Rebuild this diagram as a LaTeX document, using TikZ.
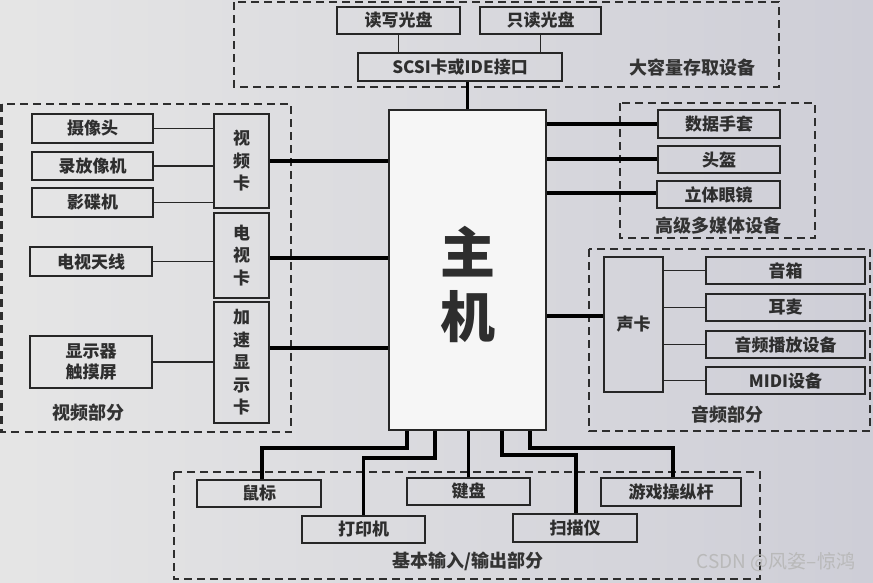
\documentclass[tikz,border=0pt]{standalone}
\usepackage{fontspec}
\setmainfont{Noto Sans CJK SC}
\begin{document}
\begin{tikzpicture}[x=1pt,y=-1pt,
  box/.style={draw=black!85,line width=2pt,inner sep=0pt,align=center,text=black!82,font=\bfseries\fontsize{17}{22.5}\selectfont},
  grp/.style={draw=black!82,line width=2.2pt,dash pattern=on 8pt off 5pt},
  lbl/.style={text=black!80,font=\bfseries\fontsize{18}{20}\selectfont,inner sep=0pt},
  thin/.style={draw=black!85,line width=1.7pt},
  thk/.style={draw=black,line width=3.5pt}]
\useasboundingbox (0,0) rectangle (873,582);
\shade[left color=gray!20, middle color=gray!7, right color=blue!10!gray!35] (0,0) rectangle (873,582);

% group frames
\draw[grp] (234,2) rectangle (779,87);
\draw[grp] (1.5,104) rectangle (291,432);
\draw[grp] (620,103) rectangle (815,238);
\draw[grp] (589,249) rectangle (870,431);
\draw[grp] (174,472) rectangle (760,579);

% top
\node[box,minimum width=123pt,minimum height=27pt] (rw) at (398.5,20.5) {读写光盘};
\node[box,minimum width=121pt,minimum height=27pt] (ro) at (540.5,20.5) {只读光盘};
\node[box,minimum width=204pt,minimum height=28pt] (scsi) at (460,67) {SCSI卡或IDE接口};
\node[lbl] (lbig) at (692,68) {大容量存取设备};

% host
\node[box,fill=white!93!gray,minimum width=157pt,minimum height=320pt] (host) at (467.5,270) {};
\node[text=black!82,font=\bfseries\fontsize{55}{64}\selectfont,align=center,inner sep=0pt] (hostt) at (467.5,284) {主\\机};

% left
\node[box,minimum width=121pt,minimum height=29pt] (cam) at (92.5,128.5) {摄像头};
\node[box,minimum width=121pt,minimum height=28pt] (vcr) at (92.5,166) {录放像机};
\node[box,minimum width=121pt,minimum height=29pt] (dvd) at (92.5,202.5) {影碟机};
\node[box,minimum width=122pt,minimum height=29pt] (ant) at (91,261.5) {电视天线};
\node[box,minimum width=122pt,minimum height=52pt] (disp) at (91,362) {显示器\\[-1.5pt]触摸屏};
\node[box,minimum width=55pt,minimum height=94pt] (vcard) at (241.5,161) {视\\频\\卡};
\node[box,minimum width=55pt,minimum height=85pt] (tvcard) at (241.5,255.5) {电\\视\\卡};
\node[box,minimum width=55pt,minimum height=121pt] (acc) at (241.5,362.5) {加\\速\\显\\示\\卡};
\node[lbl] (lvid) at (88,413) {视频部分};

% right top
\node[box,minimum width=122pt,minimum height=28pt] (glove) at (719,124) {数据手套};
\node[box,minimum width=122pt,minimum height=27pt] (helm) at (719,159.5) {头盔};
\node[box,minimum width=123pt,minimum height=27pt] (glass) at (718.5,194.5) {立体眼镜};
\node[lbl] (lmm) at (718,226) {高级多媒体设备};

% audio
\node[box,minimum width=59pt,minimum height=135pt] (sound) at (633.5,324.5) {声卡};
\node[box,minimum width=159pt,minimum height=27pt] (spk) at (785.5,270.5) {音箱};
\node[box,minimum width=159pt,minimum height=27pt] (hp) at (785.5,307.5) {耳麦};
\node[box,minimum width=159pt,minimum height=27pt] (player) at (785.5,344.5) {音频播放设备};
\node[box,minimum width=159pt,minimum height=27pt] (midi) at (785.5,380.5) {MIDI设备};
\node[lbl] (laud) at (727,415) {音频部分};

% bottom
\node[box,minimum width=124pt,minimum height=27pt] (mouse) at (259,493.5) {鼠标};
\node[box,minimum width=123pt,minimum height=27pt] (printer) at (363.5,529.5) {打印机};
\node[box,minimum width=123pt,minimum height=27pt] (kbd) at (468.5,491.5) {键盘};
\node[box,minimum width=124pt,minimum height=28pt] (scan) at (575,528) {扫描仪};
\node[box,minimum width=140pt,minimum height=28pt] (joy) at (671,492) {游戏操纵杆};
\node[lbl] (lio) at (468,561) {基本输入/输出部分};

\node[text=gray!55,font=\fontsize{19}{22}\selectfont,inner sep=0pt] (wm) at (776,562) {CSDN @风姿--惊鸿};

% connectors top
\draw[thin] (rw.south) -- (rw.south |- scsi.north);
\draw[thin] (ro.south) -- (ro.south |- scsi.north);
\draw[thk] (host.north) -- (host.north |- scsi.south);

% connectors left
\draw[thin] (cam.east) -- (cam.east -| vcard.west);
\draw[thin] (vcr.east) -- (vcr.east -| vcard.west);
\draw[thin] (dvd.east) -- (dvd.east -| vcard.west);
\draw[thin] (ant.east) -- (ant.east -| tvcard.west);
\draw[thin] (disp.east) -- (disp.east -| acc.west);
\draw[thk] (vcard.east) -- (vcard.east -| host.west);
\draw[thk] (tvcard.east |- 0,258) -- (host.west |- 0,258);
\draw[thk] (acc.east |- 0,348) -- (host.west |- 0,348);

% connectors right
\draw[thk] (host.east |- glove.west) -- (glove.west);
\draw[thk] (host.east |- 0,159) -- (helm.west |- 0,159);
\draw[thk] (host.east |- 0,193) -- (glass.west |- 0,193);
\draw[thk] (host.east |- 0,316) -- (sound.west |- 0,316);
\draw[thin] (sound.east |- spk.west) -- (spk.west);
\draw[thin] (sound.east |- hp.west) -- (hp.west);
\draw[thin] (sound.east |- player.west) -- (player.west);
\draw[thin] (sound.east |- midi.west) -- (midi.west);

% connectors bottom
\draw[thk,line join=miter] (host.south -| 407,0) -- (407,448) -| (mouse.north -| 262,0);
\draw[thk,line join=miter] (host.south -| 435,0) -- (435,458) -| (printer.north);
\draw[thk] (host.south -| kbd.north) -- (kbd.north);
\draw[thk,line join=miter] (host.south -| 502,0) -- (502,455) -| (scan.north -| 576,0);
\draw[thk,line join=miter] (host.south -| 530,0) -- (530,448) -| (joy.north -| 673,0);
\end{tikzpicture}
\end{document}
